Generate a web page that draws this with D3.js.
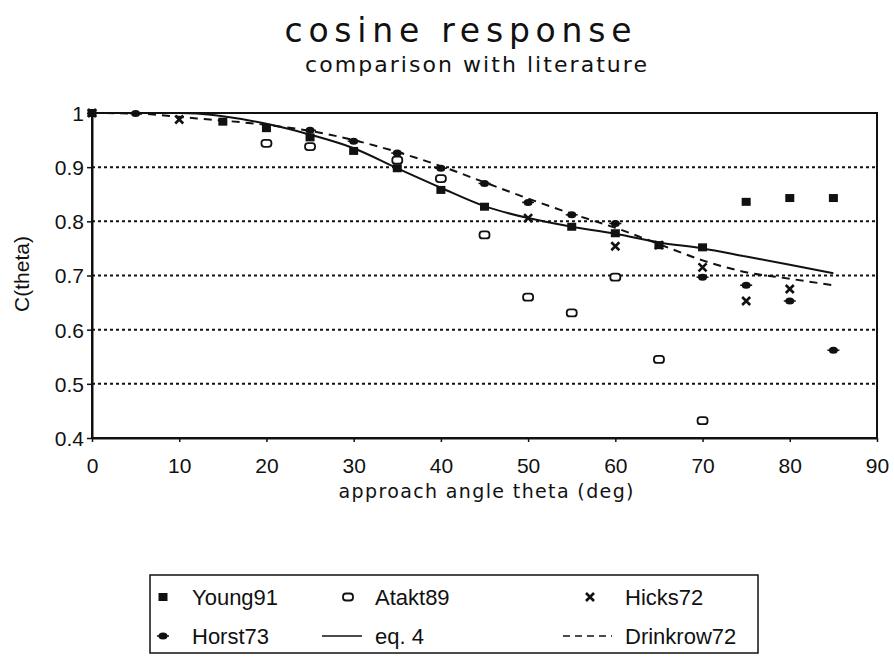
<!DOCTYPE html>
<html>
<head>
<meta charset="utf-8">
<script src="https://cdn.jsdelivr.net/npm/d3@7"></script>
<style>
  body { margin: 0; background: #fff; }
  text { font-family: "Liberation Sans", Arial, sans-serif; fill: #111; }
</style>
</head>
<body>
<div id="chart"></div>
<script>
// curves, sampled every 5 deg
var angles     = [0, 5, 10, 12, 15, 20, 25, 30, 35, 40, 45, 50, 55, 60, 65, 70, 75, 80, 85];
var eq4        = [1.0, 1.0, 1.0, 0.999, 0.994, 0.98, 0.96, 0.935, 0.898, 0.862, 0.828, 0.806, 0.79, 0.777, 0.761, 0.75, 0.735, 0.72, 0.704];
var drinkrow72 = [1.0, 0.999, 0.993, 0.99, 0.986, 0.978, 0.967, 0.95, 0.928, 0.902, 0.872, 0.842, 0.814, 0.788, 0.758, 0.728, 0.706, 0.694, 0.682];

// measured points [angle, C]
var young91 = [[0, 1.0], [15, 0.984], [20, 0.972], [25, 0.955], [30, 0.93], [35, 0.898], [40, 0.858],
               [45, 0.827], [55, 0.79], [60, 0.778], [65, 0.756], [70, 0.752], [75, 0.836], [80, 0.843], [85, 0.843]];
var atakt89 = [[20, 0.944], [25, 0.938], [35, 0.913], [40, 0.879], [45, 0.775], [50, 0.66],
               [55, 0.631], [60, 0.697], [65, 0.545], [70, 0.432]];
var hicks72 = [[0, 1.0], [10, 0.988], [50, 0.806], [60, 0.754], [65, 0.756], [70, 0.715], [75, 0.653], [80, 0.675]];
var horst73 = [[5, 0.999], [25, 0.968], [30, 0.948], [35, 0.926], [40, 0.898], [45, 0.87], [50, 0.835],
               [55, 0.812], [60, 0.796], [70, 0.697], [75, 0.682], [80, 0.653], [85, 0.562]];

var xTicks = [0, 10, 20, 30, 40, 50, 60, 70, 80, 90];
var yTicks = [0.4, 0.5, 0.6, 0.7, 0.8, 0.9, 1];
var gridTicks = [0.5, 0.6, 0.7, 0.8, 0.9];

var legendNames = ["Young91", "Atakt89", "Hicks72", "Horst73", "eq. 4", "Drinkrow72"];

var W = 894, H = 661;
var margin = {top: 113, right: 17, bottom: 223, left: 92},
    width = W - margin.left - margin.right,
    height = H - margin.top - margin.bottom;

var wideFont = "'DejaVu Sans', Verdana, sans-serif";

var svg = d3.select("#chart")
  .append("svg")
  .attr("width", W)
  .attr("height", H);

// titles
svg.append("text")
  .attr("x", 458).attr("y", 42)
  .attr("text-anchor", "middle")
  .attr("textLength", 347).attr("lengthAdjust", "spacing")
  .style("font-family", wideFont)
  .style("font-size", "33px")
  .text("cosine response");

svg.append("text")
  .attr("x", 476).attr("y", 72)
  .attr("text-anchor", "middle")
  .attr("textLength", 342).attr("lengthAdjust", "spacing")
  .style("font-family", wideFont)
  .style("font-size", "22px")
  .text("comparison with literature");

var g = svg.append("g")
  .attr("transform", "translate(" + margin.left + "," + margin.top + ")");

var x = d3.scaleLinear().domain([0, 90]).range([0, width]);
var y = d3.scaleLinear().domain([0.4, 1]).range([height, 0]);

// dotted gridlines
g.selectAll(".grid")
  .data(gridTicks)
  .join("line")
  .attr("class", "grid")
  .attr("x1", 0).attr("x2", width)
  .attr("y1", function(d) { return y(d); })
  .attr("y2", function(d) { return y(d); })
  .attr("stroke", "#111")
  .attr("stroke-width", 2)
  .attr("stroke-dasharray", "3,3");

// frame
g.append("rect")
  .attr("x", 0).attr("y", 0)
  .attr("width", width).attr("height", height)
  .attr("fill", "none")
  .attr("stroke", "#111")
  .attr("stroke-width", 2);

// axes
var xAxis = g.append("g")
  .attr("transform", "translate(0," + height + ")")
  .call(d3.axisBottom(x).tickValues(xTicks).tickSize(4).tickSizeOuter(0).tickPadding(16));
var yAxis = g.append("g")
  .call(d3.axisLeft(y).tickValues(yTicks).tickSize(5).tickSizeOuter(0).tickPadding(3)
    .tickFormat(function(d) { return d === 1 ? "1" : d3.format(".1f")(d); }));

[xAxis, yAxis].forEach(function(a) {
  a.select(".domain").attr("stroke-width", 2).attr("stroke", "#111");
  a.selectAll(".tick line").attr("stroke", "#111").attr("stroke-width", 1.5);
  a.selectAll(".tick text")
    .style("font-size", "21px")
    .style("font-family", "'Liberation Sans', Arial, sans-serif")
    .attr("fill", "#111");
});
yAxis.selectAll(".tick text").attr("dy", "0.35em");

svg.append("text")
  .attr("x", 486).attr("y", 498)
  .attr("text-anchor", "middle")
  .attr("textLength", 295).attr("lengthAdjust", "spacing")
  .style("font-family", wideFont)
  .style("font-size", "19px")
  .text("approach angle theta (deg)");

svg.append("text")
  .attr("transform", "translate(29,274) rotate(-90)")
  .attr("text-anchor", "middle")
  .style("font-size", "21px")
  .text("C(theta)");

// curves
var line = d3.line()
  .x(function(d) { return x(d[0]); })
  .y(function(d) { return y(d[1]); })
  .curve(d3.curveMonotoneX);

g.append("path")
  .datum(angles.map(function(a, i) { return [a, eq4[i]]; }))
  .attr("d", line)
  .attr("fill", "none")
  .attr("stroke", "#111")
  .attr("stroke-width", 2);

g.append("path")
  .datum(angles.map(function(a, i) { return [a, drinkrow72[i]]; }))
  .attr("d", line)
  .attr("fill", "none")
  .attr("stroke", "#111")
  .attr("stroke-width", 2)
  .attr("stroke-dasharray", "8,6");

// marker drawers
function drawSquare(sel) {
  sel.append("rect").attr("x", -4.5).attr("y", -4).attr("width", 9).attr("height", 8).attr("fill", "#111");
}
function drawOpen(sel) {
  sel.append("rect").attr("x", -5).attr("y", -3.5).attr("width", 10).attr("height", 7).attr("rx", 3)
    .attr("fill", "#fff").attr("stroke", "#111").attr("stroke-width", 1.8);
}
function drawCross(sel) {
  sel.append("path").attr("d", "M-4,-4L4,4M-4,4L4,-4").attr("stroke", "#111").attr("stroke-width", 2.6);
}
function drawDot(sel) {
  sel.append("ellipse").attr("rx", 4.5).attr("ry", 3.5).attr("fill", "#111");
  sel.append("path").attr("d", "M-6,0L6,0").attr("stroke", "#111").attr("stroke-width", 1.5);
}

function plotPoints(data, draw, cls) {
  var pts = g.selectAll("." + cls)
    .data(data)
    .join("g")
    .attr("class", cls)
    .attr("transform", function(d) { return "translate(" + x(d[0]) + "," + y(d[1]) + ")"; });
  draw(pts);
}

plotPoints(atakt89, drawOpen, "atakt");
plotPoints(horst73, drawDot, "horst");
plotPoints(young91, drawSquare, "young");
plotPoints(hicks72, drawCross, "hicks");

// legend
var legend = svg.append("g");
legend.append("rect")
  .attr("x", 150).attr("y", 575)
  .attr("width", 608).attr("height", 78)
  .attr("fill", "none")
  .attr("stroke", "#111")
  .attr("stroke-width", 1.5);

var markX = [163, 348, 590], textX = [192, 375, 625], rowY = [597, 636];
var legendDraw = [drawSquare, drawOpen, drawCross, drawDot, null, null];

legendNames.forEach(function(name, i) {
  var col = i % 3, row = Math.floor(i / 3);
  var item = legend.append("g");
  if (legendDraw[i]) {
    item.append("g").attr("transform", "translate(" + markX[col] + "," + rowY[row] + ")").call(legendDraw[i]);
  } else {
    item.append("line")
      .attr("x1", col === 1 ? 322 : 563).attr("x2", col === 1 ? 362 : 612)
      .attr("y1", rowY[row]).attr("y2", rowY[row])
      .attr("stroke", "#111").attr("stroke-width", 1.5)
      .attr("stroke-dasharray", col === 1 ? null : "7,5");
  }
  item.append("text")
    .attr("x", textX[col]).attr("y", rowY[row])
    .attr("dy", "0.35em")
    .style("font-size", "22px")
    .text(name);
});
</script>
</body>
</html>
